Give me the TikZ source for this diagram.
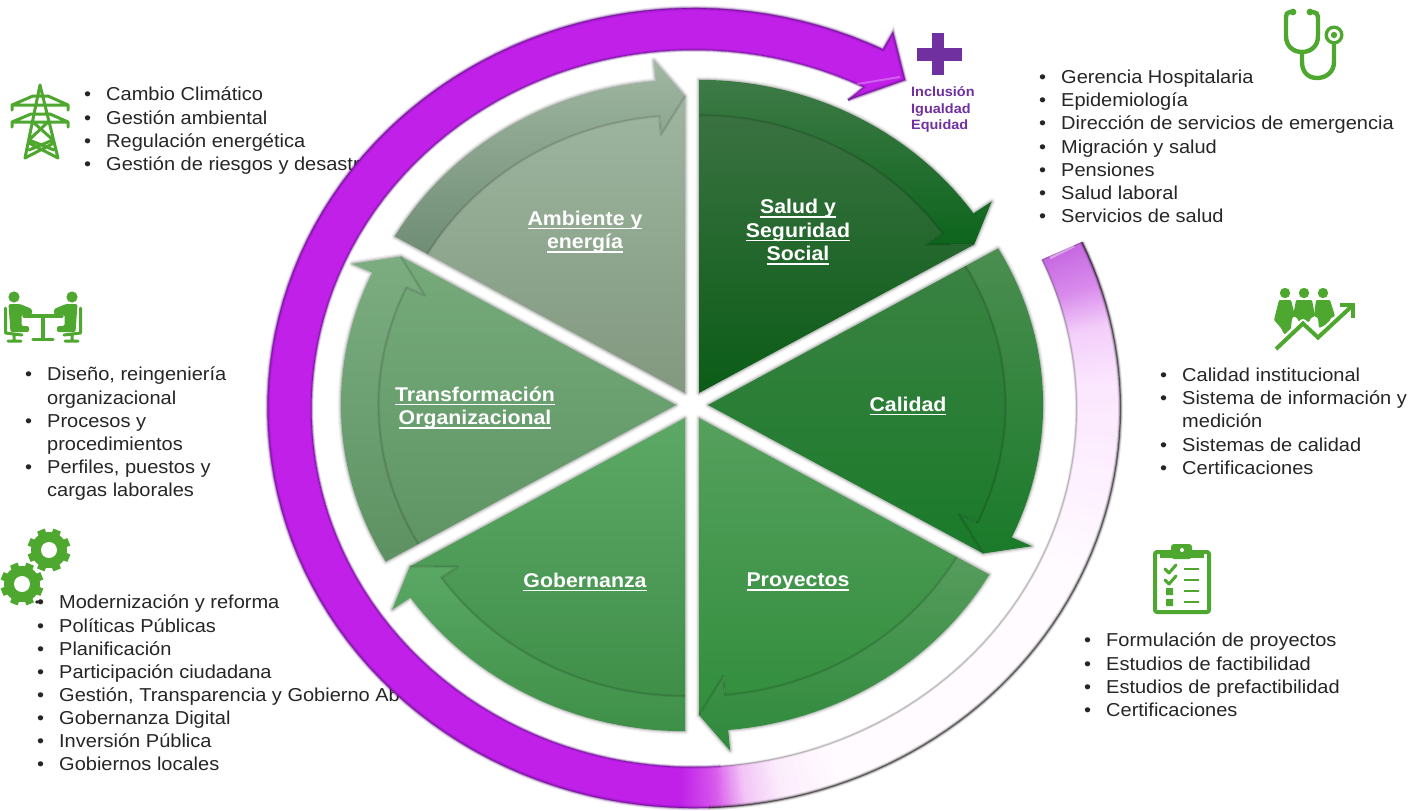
\documentclass[tikz,border=0pt]{standalone}
\usepackage{fontspec}
\setmainfont[FakeStretch=1.07]{Liberation Sans}
\usetikzlibrary{calc}
\definecolor{ringp}{HTML}{C020E8}
\definecolor{ringd}{HTML}{5A0A80}
\definecolor{icong}{HTML}{4EA72E}
\definecolor{plusp}{HTML}{7030A0}
\definecolor{inkc}{HTML}{262626}
\definecolor{saBT}{HTML}{3E7A47}\definecolor{saBB}{HTML}{0D651C}\definecolor{saIT}{HTML}{3A7241}\definecolor{saIB}{HTML}{0B5C17}
\definecolor{caBT}{HTML}{4B8E50}\definecolor{caBB}{HTML}{1A7A2A}\definecolor{caIT}{HTML}{3A8242}\definecolor{caIB}{HTML}{1A7A2A}
\definecolor{prBT}{HTML}{569C5C}\definecolor{prBB}{HTML}{2E8A3B}\definecolor{prIT}{HTML}{55A05D}\definecolor{prIB}{HTML}{328E3D}
\definecolor{goBT}{HTML}{5AA864}\definecolor{goBB}{HTML}{3E8F48}\definecolor{goIT}{HTML}{5CA966}\definecolor{goIB}{HTML}{408F49}
\definecolor{trBT}{HTML}{7BAD80}\definecolor{trBB}{HTML}{5D9162}\definecolor{trIT}{HTML}{76AA7B}\definecolor{trIB}{HTML}{5F9565}
\definecolor{amBT}{HTML}{A0B7A2}\definecolor{amBB}{HTML}{6F8C74}\definecolor{amIT}{HTML}{9EB6A0}\definecolor{amIB}{HTML}{82987F}
\newcommand\ulab[1]{\setbox0\hbox{#1}\leavevmode\rlap{\copy0}\rule[-3.8pt]{\wd0}{1.4pt}}
\newcommand\itm{\llap{\textbullet\hskip 15pt}}
\newcommand\pcx[2]{{\tx+1.07*#1*cos(#2)}}
\newcommand\pcy[2]{{\ty+#1*sin(#2)}}
\newcommand\ptp[2]{(\pcx{#1}{#2},\pcy{#1}{#2})}
\tikzset{
  listbox/.style={anchor=north west,inner sep=0pt,align=left,text=inkc,font=\fontsize{18.7}{23.1}\selectfont},
  seclabel/.style={inner sep=0pt,align=center,text=white,font=\fontsize{19.9}{23.4}\selectfont\bfseries},
  iconline/.style={draw=icong,line width=#1,line cap=round,line join=round},
  iconline/.default=3pt,
}
\begin{document}
\begin{tikzpicture}[x=1pt,y=-1pt]
\useasboundingbox (0,0) rectangle (1424,811);
\fill[white] (0,0) rectangle (1424,811);

% ---- lists (lie beneath the ring)
\node[listbox] (listA) at (106,87) {\itm Cambio Climático\\\itm Gestión ambiental\\\itm Regulación energética\\\itm Gestión de riesgos y desastr};
\node[listbox] (listB) at (47,367) {\itm Diseño, reingeniería\\organizacional\\\itm Procesos y\\procedimientos\\\itm Perfiles, puestos y\\cargas laborales};
\node[listbox] (listC) at (59,595) {\itm Modernización y reforma\\\itm Políticas Públicas\\\itm Planificación\\\itm Participación ciudadana\\\itm Gestión, Transparencia y Gobierno Ab\\\itm Gobernanza Digital\\\itm Inversión Pública\\\itm Gobiernos locales};
\node[listbox] (listD) at (1061,70) {\itm Gerencia Hospitalaria\\\itm Epidemiología\\\itm Dirección de servicios de emergencia\\\itm Migración y salud\\\itm Pensiones\\\itm Salud laboral\\\itm Servicios de salud};
\node[listbox] (listE) at (1182,368) {\itm Calidad institucional\\\itm Sistema de información y\\medición\\\itm Sistemas de calidad\\\itm Certificaciones};
\node[listbox] (listF) at (1106,633) {\itm Formulación de proyectos\\\itm Estudios de factibilidad\\\itm Estudios de prefactibilidad\\\itm Certificaciones};

% ---- six sectors with their curved arrows
\foreach \tx/\ty/\a/\cbt/\cbb/\cit/\cib in {
   699/393/-90/saBT/saBB/saIT/saIB,
   708/405/-30/caBT/caBB/caIT/caIB,
   699/418/30/prBT/prBB/prIT/prIB,
   685/418/90/goBT/goBB/goIT/goIB,
   676/405/150/trBT/trBB/trIT/trIB,
   685/393/210/amBT/amBB/amIT/amIB}{
  \pgfmathsetmacro\e{\a+55}
  \pgfmathsetmacro\f{\a+60}
  \foreach \w/\o in {7/0.05,4.5/0.08,2.5/0.12}{
    \draw[black,opacity=\o,line width=\w pt,line join=round]
      (\tx,\ty) -- plot[domain=\a:\e,samples=30] (\pcx{313}{\x},\pcy{313}{\x}) -- \ptp{334}{\e} -- \ptp{297}{\f} -- cycle;
  }
  \shade[top color=\cbt,bottom color=\cbb]
      plot[domain=\a:\e,samples=30] (\pcx{313.2}{\x},\pcy{313.2}{\x}) -- \ptp{334}{\e} -- \ptp{297}{\f} -- \ptp{258}{\e} -- plot[domain=\e:\a,samples=30] (\pcx{277}{\x},\pcy{277}{\x}) -- cycle;
  \shade[top color=\cit,bottom color=\cib]
      (\tx,\ty) -- plot[domain=\a:\e,samples=30] (\pcx{278}{\x},\pcy{278}{\x}) -- \ptp{259}{\e} -- \ptp{297}{\f} -- cycle;
  \foreach \w/\o in {3/0.05,1.2/0.11}{
    \draw[black,opacity=\o,line width=\w pt,line join=round]
      plot[domain=\a:\e,samples=30] (\pcx{278}{\x},\pcy{278}{\x}) -- \ptp{259}{\e} -- \ptp{297}{\f};
  }
}

% ---- ring: pale fading part
\foreach \ra/\rb/\ca/\cb in {
   -24.5/-18/C668E2/D98CEC,
   -18/-12/D98CEC/F3CEFA,
   -12/-4/F3CEFA/FBE6FE,
   -4/10/FBE6FE/FDF0FF,
   10/25/FDF0FF/FFFBFF,
   25/70/FFFBFF/FFFBFF,
   70/78/FFFBFF/FCECFC,
   78/83/FCECFC/F2C4F6,
   83/87/F2C4F6/D858EC,
   87/92/D858EC/C020E8}{
  \definecolor{cA}{HTML}{\ca}\definecolor{cB}{HTML}{\cb}
  \pgfmathsetmacro\st{(\rb-\ra)/12}
  \foreach \i in {0,...,11}{
    \pgfmathsetmacro\pa{\ra+\i*\st}
    \pgfmathsetmacro\pb{\ra+(\i+1)*\st+0.15}
    \pgfmathsetmacro\mx{(\i+0.5)*100/12}
    \fill[cB!\mx!cA]
      plot[domain=\pa:\pb,samples=3] ({694+426.5*cos(\x)},{408+400*sin(\x)}) --
      plot[domain=\pb:\pa,samples=3] ({694+382.5*cos(\x)},{408.5+358.5*sin(\x)}) -- cycle;
  }
}
% ---- ring: solid part with arrow head
\fill[ringp]
   plot[domain=91.9:296.3,samples=90] ({694+426.5*cos(\x)},{408+400*sin(\x)})
   -- (893,32) -- (905,80) -- (848,100)
   -- plot[domain=296.3:91.9,samples=90] ({694+382.5*cos(\x)},{408.5+358.5*sin(\x)}) -- cycle;
% edges and bevel
\foreach \w/\o in {5/0.10,3/0.22,1.2/0.5}{
  \draw[black,opacity=\o,line width=\w pt]
    plot[domain=-24.5:88,samples=60] ({694+426.5*cos(\x)},{408+400*sin(\x)});
  \draw[ringd,opacity=\o,line width=\w pt]
    plot[domain=88:296.3,samples=90] ({694+426.5*cos(\x)},{408+400*sin(\x)}) -- (893,32) -- (905,80) -- (848,100);
}
\foreach \w/\o in {3/0.08,1.2/0.2}{
  \draw[black,opacity=\o,line width=\w pt]
    plot[domain=-24.5:86,samples=60] ({694+382.5*cos(\x)},{408.5+358.5*sin(\x)});
}
\foreach \w/\o in {3.5/0.2,1.5/0.4}{
\draw[ringd,opacity=\o,line width=\w pt]
    (848,100) -- plot[domain=296.3:86,samples=90] ({694+382.5*cos(\x)},{408.5+358.5*sin(\x)});
}
\draw[white,opacity=.28,line width=2pt]
    (857,84) -- (900,77);
\draw[ringd,opacity=.5,line width=1pt] ({694+426.5*cos(-24.5)},{408+400*sin(-24.5)}) -- ({694+382.5*cos(-24.5)},{408.5+358.5*sin(-24.5)});
\draw[white,opacity=.4,line width=2.5pt] (1050,258) -- (1074,246);

% ---- sector labels
\node[seclabel] (salud) at (798,232) {\ulab{Salud y}\\\ulab{Seguridad}\\\ulab{Social}};
\node[seclabel] (calidad) at (908,406) {\ulab{Calidad}};
\node[seclabel] (proyectos) at (798,582) {\ulab{Proyectos}};
\node[seclabel] (gobernanza) at (585,582) {\ulab{Gobernanza}};
\node[seclabel] (transf) at (475,408) {\ulab{Transformación}\\\ulab{Organizacional}};
\node[seclabel] (ambiente) at (585,232) {\ulab{Ambiente y}\\\ulab{energía}};

% ---- plus sign and its text
\fill[plusp] (932,33) rectangle (944,75);
\fill[plusp] (917,48) rectangle (962,61);
\node[anchor=north west,inner sep=0pt,align=left,text=plusp,font=\fontsize{13.5}{16.6}\selectfont\bfseries] (incl) at (911,86.5) {Inclusión\\Igualdad\\Equidad};

% ---- tower icon
\draw[iconline=3pt]
  (25,158) -- (40,85) -- (58,158)
  (12,110) -- (12,105) -- (33,96) -- (48,96) -- (68,105) -- (68,110) (12,105) -- (68,105)
  (12,127) -- (12,122) -- (31,114) -- (50,114) -- (68,122) -- (68,127) (12,122) -- (68,122)
  (33,122) -- (53,140) -- (29,150) (48,122) -- (29,140) -- (54,150) (25,158) -- (54,143) (58,158) -- (29,143);

% ---- meeting icon
\foreach \m/\s in {0/1,86/-1}{
  \begin{scope}[xshift=\m pt,xscale=\s]
    \fill[icong] (14,297) circle (5.6);
    \fill[icong,rounded corners=1.5pt] (8.5,304) -- (20,304) -- (32,309) -- (32,314.5) -- (21.5,314.5) -- (21.5,326) -- (29,326) -- (29,332) -- (10.5,332) -- cycle;
    \draw[iconline=3pt] (5.5,308) -- (5.5,333) -- (22,335) (14,335) -- (14,340) (8,341) -- (21,341);
  \end{scope}
}
\draw[iconline=3.2pt] (24,316) -- (62,316) (43,316) -- (43,339) (33,339.5) -- (53,339.5);

% ---- gears
\foreach \gx/\gy in {49/550,22/584}{
  \fill[icong] (\gx,\gy) circle (18);
  \foreach \t in {22.5,67.5,...,360}{
    \draw[icong,line width=8pt] ($(\gx,\gy)+(\t:14)$) -- ($(\gx,\gy)+(\t:21.5)$);
  }
  \fill[white] (\gx,\gy) circle (8);
}
\fill[inkc] (37,602) circle (1.9);

% ---- stethoscope
\draw[iconline=4.4pt]
  (1293,12) -- (1290,12) .. controls (1287,12) and (1286,14) .. (1286,17) -- (1286,36)
  .. controls (1286,46) and (1293,52) .. (1302,52)
  .. controls (1311,52) and (1318,46) .. (1318,36) -- (1318,17)
  .. controls (1318,14) and (1316,12) .. (1313,12) -- (1310,12)
  (1302,52) -- (1302,62) .. controls (1302,72) and (1308,78) .. (1317,78)
  .. controls (1326,78) and (1334,72) .. (1334,62) -- (1334,44);
\fill[icong] (1293,12) circle (3.4) (1310,12) circle (3.4);
\fill[icong] (1334,35) circle (9.5);
\fill[white] (1334,35) circle (6);
\fill[icong] (1334,35) circle (3.2);

% ---- people and rising arrow
\fill[icong] (1285,293) circle (5.2) (1304,293) circle (5.2) (1323,293) circle (5.2);
\fill[icong,rounded corners=1pt] (1279,300) -- (1291,300) -- (1295,316) -- (1292,318) -- (1291,328) -- (1289,334) -- (1284,334) -- (1281,328) -- (1274,320) -- cycle;
\fill[icong,rounded corners=1pt] (1296,300) -- (1312,300) -- (1315,316) -- (1311,318) -- (1309,322) -- (1299,322) -- (1297,318) -- (1293,316) -- cycle;
\fill[icong,rounded corners=1pt] (1316,300) -- (1330,300) -- (1335,316) -- (1331,318) -- (1328,324) -- (1319,328) -- (1318,318) -- (1314,316) -- cycle;
\draw[white,line width=8pt,line join=round] (1276,348) -- (1303,323) -- (1318,337) -- (1352,306);
\draw[iconline=4pt,line cap=butt,line join=miter] (1276,349) -- (1303,323.5) -- (1318,337.5) -- (1352,306);
\draw[iconline=4pt,line cap=butt,line join=miter] (1340,305) -- (1353,305) -- (1353,318);

% ---- clipboard
\draw[iconline=4pt,rounded corners=2pt] (1155,552) rectangle (1209,612);
\fill[icong,rounded corners=3pt] (1171,544) rectangle (1192,559);
\fill[icong] (1160,553) rectangle (1204,558);
\fill[white] (1182,550) circle (2);
\draw[iconline=3pt] (1165,569) -- (1169,573) -- (1176,565) (1165,580) -- (1169,584) -- (1176,576);
\fill[icong] (1166,588) rectangle (1173,595) (1166,599) rectangle (1173,606);
\draw[iconline=2.8pt,line cap=butt] (1184,569) -- (1199,569) (1184,580) -- (1199,580) (1184,591) -- (1199,591) (1184,602) -- (1199,602);
\end{tikzpicture}
\end{document}
